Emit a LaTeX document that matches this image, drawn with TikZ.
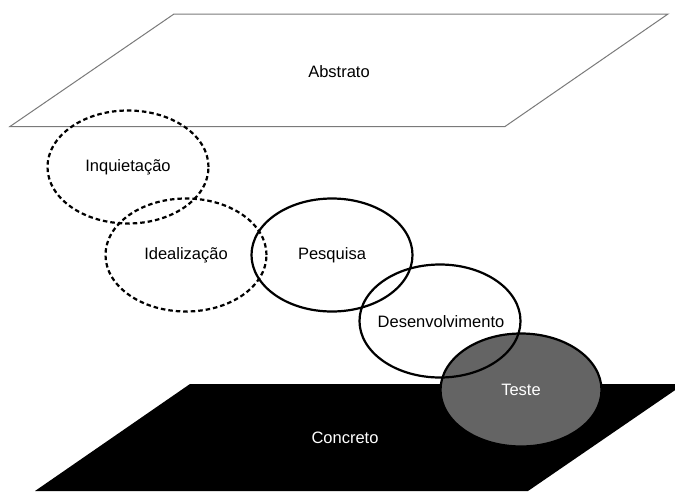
\documentclass[tikz,border=0pt]{standalone}
\usepackage{fontspec}
\setmainfont{Liberation Sans}
\usetikzlibrary{shapes.geometric}
\definecolor{planeline}{HTML}{7A7A7A}
\definecolor{testefill}{HTML}{646464}
\tikzset{
  lbl/.style={font=\fontsize{16.5}{18}\selectfont, inner sep=0pt},
  bubble/.style={ellipse, minimum width=161pt, minimum height=113pt, inner sep=0pt,
    line width=2.2pt, draw=black},
  dashbubble/.style={bubble, dash pattern=on 4.5pt off 3pt},
  plane/.style={draw=planeline, line width=1pt},
}
\begin{document}
\begin{tikzpicture}[x=1pt,y=-1pt]
\useasboundingbox (0,0) rectangle (675,491);
\fill[white] (0,0) rectangle (675,491);
\clip (0,0) rectangle (675,491);
% abstract plane
\draw[plane] (174,14) -- (668,14) -- (505,126.5) -- (10,126.5) -- cycle;
\node[lbl] (abstrato) at (339,72) {Abstrato};
% concrete plane
\fill[black] (190,384) -- (684,384) -- (528,491) -- (35,491) -- cycle;
\node[lbl, text=white] (concreto) at (345,438) {Concreto};
% bubbles
\node[bubble, fill=testefill] (teste) at (521,390) {};
\node[dashbubble] (inq) at (128,167) {};
\node[dashbubble] (ideal) at (186,255) {};
\node[bubble] (pesq) at (332,255) {};
\node[bubble] (desenv) at (440,321) {};
% labels
\node[lbl, text=white] (testelbl) at (teste.center) {Teste};
\node[lbl] (inqlbl) at (inq.center) {Inquietação};
\node[lbl] (ideallbl) at (ideal.center) {Idealização};
\node[lbl] (pesqlbl) at (pesq.center) {Pesquisa};
\node[lbl] (desenvlbl) at ([xshift=1pt,yshift=-1pt]desenv.center) {Desenvolvimento};
\end{tikzpicture}
\end{document}
